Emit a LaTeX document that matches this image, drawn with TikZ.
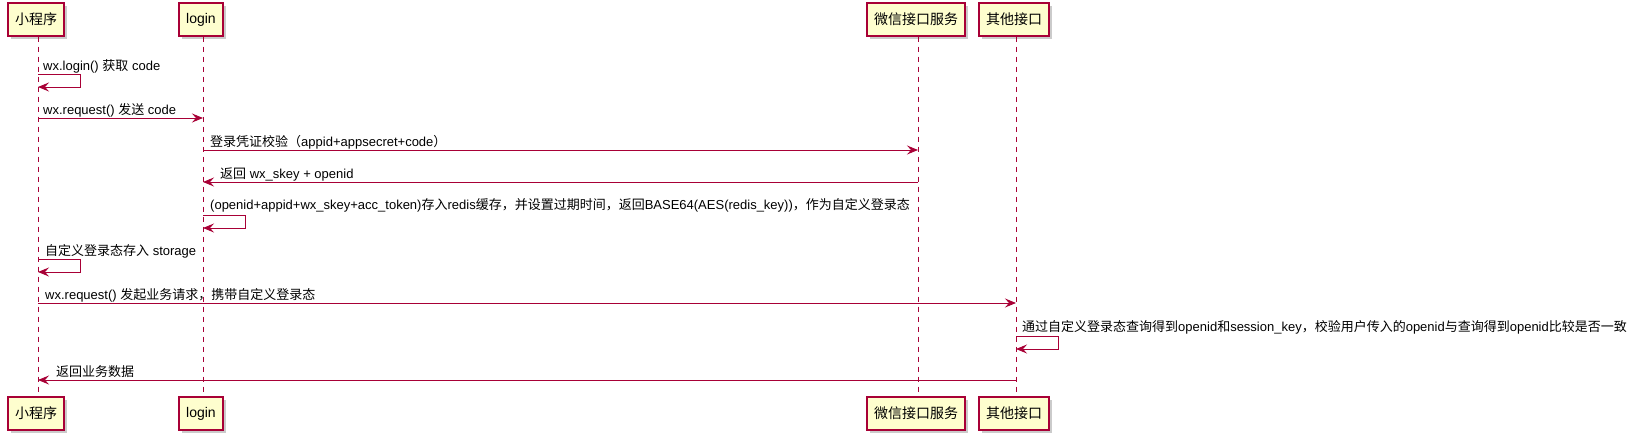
\documentclass[tikz,border=0pt]{standalone}
\usepackage{fontspec}
\setmainfont{Liberation Sans}
\newfontfamily\cjk{Noto Sans CJK SC}
\newcommand\zh[1]{{\cjk #1}}
\usetikzlibrary{arrows.meta,shadows}
\definecolor{pu}{HTML}{A80036}
\definecolor{pufill}{HTML}{FEFECE}
\tikzset{
  pbox/.style={draw=pu, fill=pufill, line width=1.1pt, minimum height=33pt, inner sep=0pt,
    font=\fontsize{14}{16}\selectfont,
    drop shadow={shadow xshift=3pt, shadow yshift=-3pt, fill=black!45, opacity=0.45}},
  life/.style={draw=pu, line width=0.8pt, dash pattern=on 5pt off 5pt},
  msg/.style={draw=pu, line width=0.9pt, -{Stealth[length=11pt,width=9pt,inset=4pt]}},
  lbl/.style={anchor=west, inner sep=0pt, font=\fontsize{13}{15}\selectfont},
}
\begin{document}
\begin{tikzpicture}[x=1pt,y=-1pt]
\useasboundingbox (0,0) rectangle (1637,441);
% participants top
\node[pbox, minimum width=56pt] (aT) at (36,19.5) {\zh{小程序}};
\node[pbox, minimum width=44pt] (bT) at (201,19.5) {login};
\node[pbox, minimum width=98pt] (cT) at (916,19.5) {\zh{微信接口服务}};
\node[pbox, minimum width=70pt] (dT) at (1014,19.5) {\zh{其他接口}};
% participants bottom
\node[pbox, minimum width=56pt] (aB) at (36,413.5) {\zh{小程序}};
\node[pbox, minimum width=44pt] (bB) at (201,413.5) {login};
\node[pbox, minimum width=98pt] (cB) at (916,413.5) {\zh{微信接口服务}};
\node[pbox, minimum width=70pt] (dB) at (1014,413.5) {\zh{其他接口}};
% lifelines
\draw[life] ([xshift=2pt]aT.south) -- ([xshift=2pt]aB.north);
\draw[life] ([xshift=2pt]bT.south) -- ([xshift=2pt]bB.north);
\draw[life] ([xshift=2pt]cT.south) -- ([xshift=2pt]cB.north);
\draw[life] ([xshift=2pt]dT.south) -- ([xshift=2pt]dB.north);
% 1 self A
\coordinate (m1s) at (38,74);
\coordinate (m1e) at (38,87);
\node[lbl] (t1) at (43,66) {wx.login() \zh{获取} code};
\draw[msg] (m1s) -- ++(42,0) -- ++(0,13) -- (m1e);
% 2 A->B
\coordinate (m2s) at (38,118);
\coordinate (m2e) at (203,118);
\node[lbl] (t2) at (43,110) {wx.request() \zh{发送} code};
\draw[msg] (m2s) -- (m2e);
% 3 B->C
\coordinate (m3s) at (203,150);
\coordinate (m3e) at (918,150);
\node[lbl] (t3) at (210,142) {\zh{登录凭证校验（}appid+appsecret+code\zh{）}};
\draw[msg] (m3s) -- (m3e);
% 4 C->B
\coordinate (m4s) at (918,182);
\coordinate (m4e) at (203,182);
\node[lbl] (t4) at (220,174) {\zh{返回} wx\_skey + openid};
\draw[msg] (m4s) -- (m4e);
% 5 self B
\coordinate (m5s) at (203,215);
\coordinate (m5e) at (203,228);
\node[lbl] (t5) at (210,205) {(openid+appid+wx\_skey+acc\_token)\zh{存入}redis\zh{缓存，并设置过期时间，返回}BASE64(AES(redis\_key))\zh{，作为自定义登录态}};
\draw[msg] (m5s) -- ++(42,0) -- ++(0,13) -- (m5e);
% 6 self A
\coordinate (m6s) at (38,259);
\coordinate (m6e) at (38,272);
\node[lbl] (t6) at (45,251) {\zh{自定义登录态存入} storage};
\draw[msg] (m6s) -- ++(42,0) -- ++(0,13) -- (m6e);
% 7 A->D
\coordinate (m7s) at (38,303);
\coordinate (m7e) at (1016,303);
\node[lbl] (t7) at (45,295) {wx.request() \zh{发起业务请求，携带自定义登录态}};
\draw[msg] (m7s) -- (m7e);
% 8 self D
\coordinate (m8s) at (1016,336);
\coordinate (m8e) at (1016,349);
\node[lbl] (t8) at (1022,327) {\zh{通过自定义登录态查询得到}openid\zh{和}session\_key\zh{，校验用户传入的}openid\zh{与查询得到}openid\zh{比较是否一致}};
\draw[msg] (m8s) -- ++(42,0) -- ++(0,13) -- (m8e);
% 9 D->A
\coordinate (m9s) at (1016,380);
\coordinate (m9e) at (38,380);
\node[lbl] (t9) at (56,372) {\zh{返回业务数据}};
\draw[msg] (m9s) -- (m9e);
\end{tikzpicture}
\end{document}
